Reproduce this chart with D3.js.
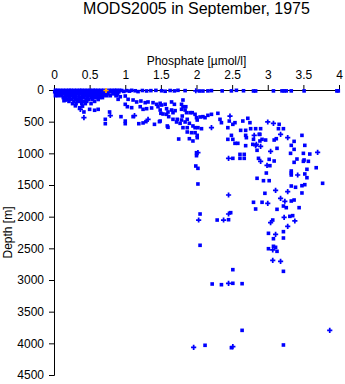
<!DOCTYPE html>
<html>
<head>
<meta charset="utf-8">
<script src="https://cdn.jsdelivr.net/npm/d3@7"></script>
<style>
  html, body { margin: 0; padding: 0; background: #fff; }
  svg { display: block; }
  text { font-family: "Liberation Sans", Arial, Helvetica, sans-serif; fill: #000; }
</style>
</head>
<body>
<svg id="chart" width="345" height="384"></svg>
<script>
// ---------- data ----------
const titleText = "MODS2005 in September, 1975";
const xLabel = "Phosphate [\u00b5mol/l]";
const yLabel = "Depth [m]";
const xTicks = [0, 0.5, 1, 1.5, 2, 2.5, 3, 3.5, 4];
const yTicks = [0, 500, 1000, 1500, 2000, 2500, 3000, 3500, 4000, 4500];

// [phosphate, depth] – dense surface cluster
const surfaceCluster = [
  [0.02,5],[0.05,5],[0.09,5],[0.13,5],[0.17,5],[0.21,5],[0.24,5],[0.28,5],[0.32,5],[0.36,5],[0.39,5],[0.43,5],[0.47,5],[0.51,5],[0.55,5],[0.58,5],[0.62,5],[0.66,5],[0.70,5],[0.77,5],[0.81,5],[0.85,5],[0.88,5],[0.92,5],
  [0.01,30],[0.04,30],[0.08,30],[0.12,30],[0.15,30],[0.19,30],[0.23,30],[0.27,30],[0.31,30],[0.34,30],[0.38,30],[0.42,30],[0.45,30],[0.49,30],[0.53,30],[0.57,30],[0.60,30],[0.64,30],[0.68,30],[0.72,30],[0.76,30],[0.80,30],[0.86,30],[0.91,30],
  [0.03,60],[0.07,60],[0.10,60],[0.14,60],[0.18,60],[0.22,60],[0.26,60],[0.29,60],[0.33,60],[0.37,60],[0.41,60],[0.44,60],[0.48,60],[0.52,60],[0.56,60],[0.59,60],[0.63,60],[0.67,60],[0.71,60],[0.75,60],[0.83,60],[0.89,60],
  [0.02,90],[0.06,90],[0.11,90],[0.16,90],[0.20,90],[0.25,90],[0.28,90],[0.30,90],[0.35,90],[0.40,90],[0.43,90],[0.46,90],[0.50,90],[0.54,90],[0.58,90],[0.61,90],[0.65,90],[0.69,90],[0.74,90],[0.79,90],[0.87,90],
  [0.13,120],[0.17,120],[0.22,120],[0.27,120],[0.31,120],[0.36,120],[0.39,120],[0.42,120],[0.47,120],[0.52,120],[0.55,120],[0.60,120],[0.64,120],[0.68,120],
  [0.15,150],[0.20,150],[0.25,150],[0.30,150],[0.34,150],[0.38,150],[0.45,150],[0.49,150],[0.54,150],[0.62,150],
  [0.21,180],[0.28,180],[0.33,180],[0.37,180],[0.41,180],[0.46,180],[0.57,180],
  [0.26,215],[0.31,215],[0.39,215],[0.44,215],[0.52,215],
  [0.30,250],[0.40,255],[0.36,280]
];

// [phosphate, depth] – square markers
const squareObs = [
  // near-surface row
  [0.90,15],[0.95,8],[0.98,22],[1.02,10],[1.06,18],[1.09,5],[1.14,12],[1.18,25],[1.24,8],[1.30,15],[1.36,10],[1.43,6],
  [1.51,12],[1.56,20],[1.63,8],[1.69,14],[1.74,5],[1.84,10],[2.04,16],[2.09,16],[2.16,14],[2.21,10],[2.36,14],[2.49,14],
  [2.56,5],[2.66,12],[2.80,15],[2.83,15],[3.08,14],[3.20,14],[3.23,14],[3.26,14],[3.33,14],[3.51,14],[3.97,14],[3.99,14],
  [0.86,52],[0.89,52],
  // upper thermocline
  [0.14,169],[0.16,158],[0.42,347],[0.50,305],[0.57,320],[0.62,305],[0.78,347],[0.72,463],[0.72,532],
  [0.94,421],[1.00,532],[1.19,532],[1.29,500],[1.25,520],[1.41,542],[1.48,500],[1.60,589],[1.75,774],
  [0.88,84],[0.93,106],[1.00,95],[1.04,147],[0.90,147],[1.11,158],[1.16,189],[1.22,174],[1.28,200],[1.32,189],
  [1.39,200],[1.44,226],[1.49,210],[1.65,189],[1.69,226],[1.79,226],[1.81,158],
  [1.00,226],[1.03,264],[1.09,279],[1.21,264],[1.25,305],[1.30,295],[1.37,284],[1.46,264],[1.49,316],[1.58,295],[1.60,347],[1.67,358],
  [1.00,490],[1.11,421],[1.49,490],[1.58,384],[1.61,421],[1.67,463],[1.72,505],[1.77,526],[1.59,568],[1.81,595],
  [1.51,237],[1.56,226],[1.50,368],[1.53,379],[1.65,316],[1.70,326],[1.73,463],
  [1.81,264],[1.85,264],[1.79,305],[1.84,316],[1.86,358],[1.91,358],[1.94,358],[1.98,384],[2.00,437],[2.01,474],
  [2.05,426],[2.09,421],[2.12,437],[2.16,400],[2.21,384],[2.30,368],
  [1.80,411],[1.79,474],[1.87,463],[1.84,505],[1.90,526],[1.87,595],[1.95,568],[1.98,595],[2.02,595],[2.07,611],
  [1.87,663],[1.93,674],[1.98,674],[2.01,716],[2.01,753],[1.90,769],[1.95,805],
  [2.33,463],[2.35,516],[2.46,490],[2.54,516],[2.51,542],[2.65,490],[2.72,447],[2.75,516],[2.44,595],
  [2.62,637],[2.69,637],[2.76,611],[2.83,611],[2.90,611],[2.69,716],[2.70,753],[2.89,700],[2.80,779],[2.89,805],
  [2.49,716],[2.51,779],[2.44,779],[2.54,842],[2.58,842],[2.79,858],
  [3.16,542],[3.15,611],[3.22,611],
  [2.88,700],[2.97,790],[2.92,779],[3.12,769],[3.09,790],[3.37,811],[3.48,716],[3.33,874],[3.52,874],
  // intermediate
  [2.69,879],[3.13,921],[3.37,937],[2.00,990],[2.00,1037],[2.85,952],[3.32,1000],[3.50,1000],[3.59,1011],
  [2.61,1016],[2.67,1016],[2.51,1079],[2.61,1079],[2.67,1079],[2.87,1079],[3.02,1095],[3.09,1121],
  [3.41,1090],[3.37,1142],[3.50,1126],[3.57,1126],[3.51,1105],[1.99,1200],[2.02,1237],[3.03,1195],
  [3.68,1227],[3.55,1252],[3.33,1279],[3.33,1311],[3.33,1342],[2.98,1311],[3.52,1326],[3.55,1385],
  [2.85,1394],[2.94,1432],[3.02,1432],[3.77,1473],[3.52,1495],[3.48,1511],[3.39,1536],[3.33,1516],[2.02,1484],
  [2.96,1631],[3.48,1626],[3.33,1753],[3.37,1737],[2.80,1773],[2.92,1773],[3.22,1832],[3.26,1858],[3.44,1858],
  [2.83,1879],[3.13,1884],[2.05,1958],[2.48,1937],[3.31,1995],[3.35,1984],
  // deep
  [2.29,2053],[2.45,2048],[3.07,2053],[3.01,2263],[3.22,2237],[3.08,2348],[3.22,2337],[2.05,2452],
  [3.08,2468],[3.11,2484],[3.01,2506],[3.13,2547],[3.22,2863],[2.51,2837],
  [2.22,3063],[2.35,3074],[2.51,3052],[2.64,3058],[2.64,3795],[2.12,4031],[2.49,4069],[3.22,4026]
];

// [phosphate, depth] – cross markers
const crossObs = [
  [1.99,12],[0.37,305],[0.42,437],[0.79,403],[1.13,405],[1.32,463],
  [2.21,595],[2.47,411],[2.81,716],[2.84,858],[2.83,879],[2.90,889],
  [3.00,505],[3.08,526],[3.18,700],[3.28,753],
  [2.02,990],[3.04,968],[3.70,984],[2.45,1079],[2.90,1126],[2.99,1190],[3.42,1342],
  [2.45,1658],[3.11,1584],[3.28,1606],[3.18,1710],[3.24,1757],[3.00,1789],
  [2.45,1958],[3.23,2010],[2.03,2053],[2.38,2053],[3.04,2095],[3.38,2068],[3.28,2152],
  [3.11,2279],[3.07,2526],[3.07,2689],[3.18,2705],[2.45,3052],
  [3.87,3795],[1.96,4063],[2.51,4053]
];

// flagged observation (orange)
const flaggedObs = [[0.73,8]];

// ---------- chart ----------
const svg = d3.select("#chart");
const x = d3.scaleLinear().domain([0, 4]).range([54, 339]);
const y = d3.scaleLinear().domain([0, 4500]).range([90, 375]);

svg.append("text")
  .attr("x", 196.5).attr("y", 13.5)
  .attr("text-anchor", "middle")
  .style("font-size", "16px")
  .text(titleText);

svg.append("text")
  .attr("x", 196.5).attr("y", 65)
  .attr("text-anchor", "middle")
  .style("font-size", "12px")
  .text(xLabel);

svg.append("text")
  .attr("transform", "translate(12,232.5) rotate(-90)")
  .attr("text-anchor", "middle")
  .style("font-size", "12px")
  .text(yLabel);

const xAxis = svg.append("g")
  .attr("transform", "translate(0,90)")
  .call(d3.axisTop(x).tickValues(xTicks).tickSize(5).tickSizeOuter(5).tickPadding(6)
        .tickFormat(d3.format("~g")));
const yAxis = svg.append("g")
  .attr("transform", "translate(54,0)")
  .call(d3.axisLeft(y).tickValues(yTicks).tickSize(5).tickSizeOuter(5).tickPadding(5)
        .tickFormat(d3.format("d")));

[xAxis, yAxis].forEach(g => {
  g.selectAll("text").style("font-size", "12px").style("font-family", "'Liberation Sans', Arial, sans-serif").attr("fill", "#000");
  g.selectAll("line,path").attr("stroke", "#000").attr("stroke-width", 1);
});

const blue = "#0000ff";
const sq = 3.6;
const pts = svg.append("g");

pts.selectAll("rect.c")
  .data(surfaceCluster.concat(squareObs))
  .join("rect")
  .attr("x", d => x(d[0]) - sq / 2)
  .attr("y", d => y(d[1]) - sq / 2)
  .attr("width", sq).attr("height", sq)
  .attr("fill", blue);

const crossSym = d3.symbol().type(d3.symbolCross).size(15);
pts.selectAll("path.x")
  .data(crossObs)
  .join("path")
  .attr("transform", d => `translate(${x(d[0])},${y(d[1])})`)
  .attr("d", crossSym)
  .attr("fill", blue);

pts.selectAll("path.f")
  .data(flaggedObs)
  .join("path")
  .attr("transform", d => `translate(${x(d[0])},${y(d[1])})`)
  .attr("d", crossSym)
  .attr("fill", "#ffa500");
</script>
</body>
</html>
